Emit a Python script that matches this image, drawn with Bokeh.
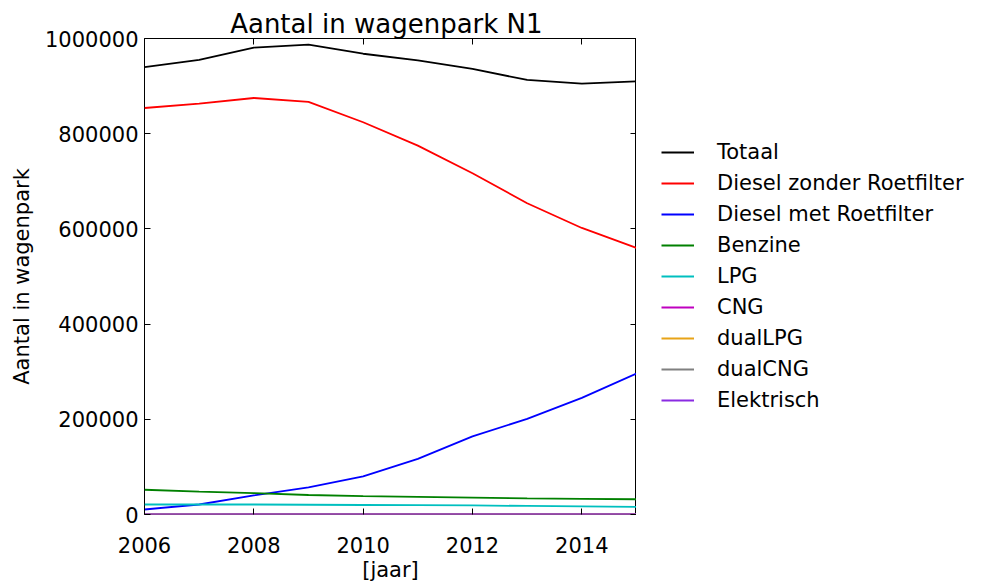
from bokeh.plotting import figure
from bokeh.layouts import row
from bokeh.models import Legend, LegendItem, LinearAxis, FixedTicker, Range1d, Title, NumeralTickFormatter
from bokeh.embed import file_html
from bokeh.resources import INLINE

years = [2006, 2007, 2008, 2009, 2010, 2011, 2012, 2013, 2014, 2015]
totaal = [940000, 955000, 981000, 987000, 968000, 954000, 936000, 913000, 905000, 910000]
diesel_zonder = [854000, 863000, 875000, 867000, 824000, 775000, 717000, 654000, 602000, 560000]
diesel_met = [10500, 21000, 40000, 57000, 80000, 117000, 164000, 201000, 245000, 296000]
benzine = [52000, 48000, 45000, 41000, 38500, 37000, 35500, 34000, 33000, 32000]
lpg = [21000, 21000, 21000, 20500, 20000, 19500, 19000, 18000, 17000, 16000]
cng = [400, 450, 500, 550, 600, 650, 700, 750, 800, 850]
dual_lpg = [100, 100, 100, 100, 100, 100, 100, 100, 100, 100]
dual_cng = [50, 50, 50, 50, 50, 50, 50, 50, 50, 50]
elektrisch = [0, 0, 0, 0, 50, 100, 150, 200, 250, 300]

series_names = ["Totaal", "Diesel zonder Roetfilter", "Diesel met Roetfilter", "Benzine",
                "LPG", "CNG", "dualLPG", "dualCNG", "Elektrisch"]
series_values = [totaal, diesel_zonder, diesel_met, benzine, lpg, cng, dual_lpg, dual_cng, elektrisch]
series_colors = ["#000000", "#FF0000", "#0000FF", "#008000", "#00BFBF", "#BF00BF",
                 "#E8A317", "#808080", "#8A2BE2"]

x_ticks = [2006, 2008, 2010, 2012, 2014]
y_ticks = [0, 200000, 400000, 600000, 800000, 1000000]

FONT = "DejaVu Sans"

p = figure(frame_width=492, frame_height=476, output_backend="svg", toolbar_location=None,
           x_range=Range1d(2006, 2015), y_range=Range1d(0, 1000000),
           min_border_left=144, min_border_right=0, min_border_top=38, min_border_bottom=60,
           title=None)

p.xgrid.visible = False
p.ygrid.visible = False
p.outline_line_color = "black"
p.outline_line_width = 1
p.background_fill_color = "white"
p.border_fill_color = "white"

for name, vals, col in zip(series_names, series_values, series_colors):
    p.line(years, vals, line_color=col, line_width=1.8)

def style_axis(ax, labels=True):
    ax.major_tick_in = 6
    ax.major_tick_out = 0
    ax.minor_tick_in = 0
    ax.minor_tick_out = 0
    ax.axis_line_color = None
    ax.major_tick_line_color = "black"
    ax.major_tick_line_width = 1
    ax.major_label_text_font = FONT
    ax.major_label_text_font_size = "21px" if labels else "0px"
    ax.major_label_text_color = "black"
    ax.axis_label_text_font = FONT
    ax.axis_label_text_font_size = "21px"
    ax.axis_label_text_font_style = "normal"
    ax.axis_label_text_color = "black"

xa = p.xaxis[0]
style_axis(xa)
xa.ticker = FixedTicker(ticks=x_ticks)
xa.axis_label = "[jaar]"
xa.major_label_standoff = 22
xa.axis_label_standoff = 2

ya = p.yaxis[0]
style_axis(ya)
ya.ticker = FixedTicker(ticks=y_ticks)
ya.formatter = NumeralTickFormatter(format="0")
ya.axis_label = "Aantal in wagenpark"
ya.major_label_standoff = 6
ya.axis_label_standoff = 8

top = LinearAxis()
style_axis(top, labels=False)
top.ticker = FixedTicker(ticks=x_ticks)
top.major_label_standoff = 0
top.major_label_overrides = {t: "" for t in x_ticks}
p.add_layout(top, "above")

right = LinearAxis()
style_axis(right, labels=False)
right.ticker = FixedTicker(ticks=y_ticks)
right.major_label_standoff = 0
right.major_label_overrides = {t: "" for t in y_ticks}
p.add_layout(right, "right")

p.add_layout(Title(text="Aantal in wagenpark  N1", text_font=FONT, text_font_size="26px",
                   text_font_style="normal", text_color="black", align="center",
                   standoff=0, offset=0), "above")

# legend panel as a separate, axis-less figure beside the chart;
# its lines carry the same series but fall outside its (unit) ranges
lg = figure(width=330, height=514, output_backend="svg", toolbar_location=None,
            x_range=Range1d(0, 1), y_range=Range1d(-3, -2),
            min_border_left=0, min_border_right=0, min_border_top=0, min_border_bottom=0,
            title=None)
lg.axis.visible = False
lg.xgrid.visible = False
lg.ygrid.visible = False
lg.outline_line_color = None
lg.background_fill_color = "white"
lg.border_fill_color = "white"

items = []
for name, vals, col in zip(series_names, series_values, series_colors):
    r = lg.line(years, vals, line_color=col, line_width=1.8)
    items.append(LegendItem(label=name, renderers=[r]))

legend = Legend(items=items, location=(25, 32), orientation="vertical",
                label_text_font=FONT, label_text_font_size="21px", label_text_color="black",
                glyph_width=33, glyph_height=20, label_height=20, label_standoff=23,
                spacing=7, padding=0, margin=0, border_line_color=None,
                background_fill_alpha=0)
lg.add_layout(legend, "center")

layout = row(p, lg)
open("out.html", "w").write(file_html(layout, INLINE))
